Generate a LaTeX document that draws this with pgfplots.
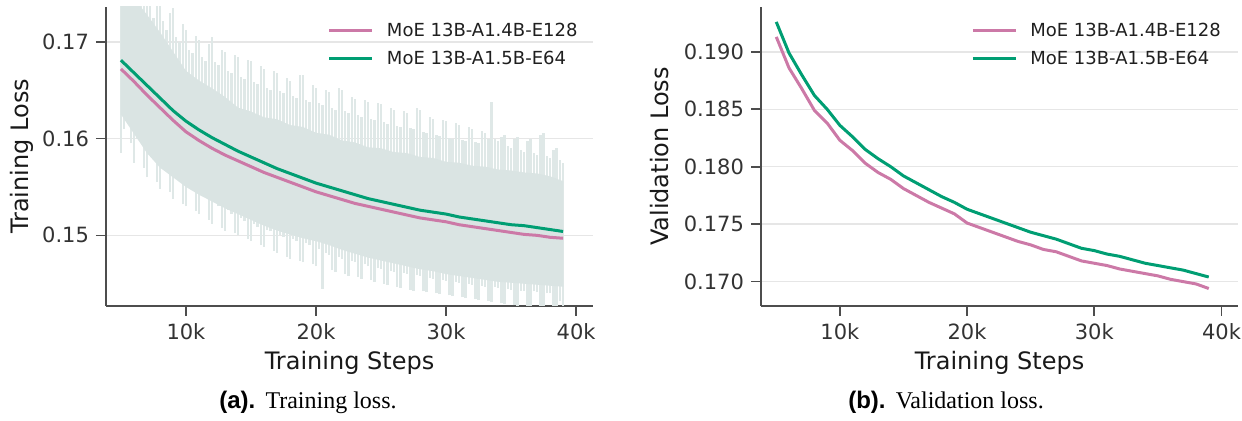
\documentclass[border=0pt]{standalone}
\usepackage{fontspec}
\setmainfont{DejaVu Sans}
\newfontfamily\capsans{Liberation Sans}
\newfontfamily\capserif{Liberation Serif}
\usepackage{pgfplots}
\usepackage{pgfplotstable}
\pgfplotsset{compat=1.18}

\definecolor{pinkline}{HTML}{CC79A7}
\definecolor{greenline}{HTML}{009E73}
\definecolor{bandcore}{HTML}{DAE4E3}
\definecolor{bandspike}{HTML}{DFE8E7}
\definecolor{gridgray}{HTML}{E6E6E6}
\definecolor{spine}{HTML}{4D4D4D}
\definecolor{ticktext}{HTML}{333333}

% raw training loss: lowest and highest value in each 250-step window
\pgfplotstableread{
s lo hi
5000 0.1585 0.1760
5250 0.1610 0.1760
5500 0.1622 0.1745
5750 0.1595 0.1760
6000 0.1575 0.1770
6250 0.1600 0.1750
6500 0.1598 0.1738
6750 0.1570 0.1760
7000 0.1560 0.1762
7250 0.1585 0.1740
7500 0.1580 0.1725
7750 0.1555 0.1745
8000 0.1548 0.1750
8250 0.1570 0.1722
8500 0.1566 0.1712
8750 0.1545 0.1730
9000 0.1538 0.1735
9250 0.1560 0.1705
9500 0.1556 0.1700
9750 0.1532 0.1718
10000 0.1530 0.1712
10250 0.1550 0.1692
10500 0.1548 0.1688
10750 0.1525 0.1706
11000 0.1522 0.1702
11250 0.1542 0.1684
11500 0.1540 0.1680
11750 0.1516 0.1698
12000 0.1512 0.1705
12250 0.1534 0.1679
12500 0.1530 0.1676
12750 0.1508 0.1692
13000 0.1505 0.1690
13250 0.1526 0.1670
13500 0.1522 0.1668
13750 0.1502 0.1686
14000 0.1500 0.1684
14250 0.1518 0.1664
14500 0.1515 0.1662
14750 0.1496 0.1681
15000 0.1494 0.1680
15250 0.1512 0.1658
15500 0.1509 0.1656
15750 0.1490 0.1675
16000 0.1488 0.1672
16250 0.1506 0.1652
16500 0.1504 0.1650
16750 0.1484 0.1670
17000 0.1482 0.1668
17250 0.1500 0.1649
17500 0.1498 0.1647
17750 0.1478 0.1663
18000 0.1476 0.1660
18250 0.1496 0.1644
18500 0.1494 0.1642
18750 0.1474 0.1666
19000 0.1472 0.1666
19250 0.1492 0.1640
19500 0.1490 0.1638
19750 0.1470 0.1655
20000 0.1468 0.1652
20250 0.1486 0.1637
20500 0.1445 0.1635
20750 0.1482 0.1650
21000 0.1480 0.1648
21250 0.1464 0.1632
21500 0.1462 0.1630
21750 0.1478 0.1652
22000 0.1476 0.1650
22250 0.1460 0.1628
22500 0.1458 0.1626
22750 0.1474 0.1643
23000 0.1472 0.1641
23250 0.1457 0.1624
23500 0.1455 0.1622
23750 0.1470 0.1640
24000 0.1468 0.1638
24250 0.1454 0.1620
24500 0.1452 0.1619
24750 0.1466 0.1637
25000 0.1465 0.1636
25250 0.1450 0.1617
25500 0.1449 0.1615
25750 0.1463 0.1632
26000 0.1462 0.1630
26250 0.1447 0.1613
26500 0.1446 0.1612
26750 0.1461 0.1628
27000 0.1460 0.1626
27250 0.1444 0.1611
27500 0.1443 0.1610
27750 0.1459 0.1632
28000 0.1458 0.1630
28250 0.1442 0.1607
28500 0.1441 0.1606
28750 0.1456 0.1622
29000 0.1455 0.1620
29250 0.1440 0.1604
29500 0.1439 0.1603
29750 0.1454 0.1619
30000 0.1453 0.1618
30250 0.1438 0.1601
30500 0.1437 0.1600
30750 0.1452 0.1616
31000 0.1451 0.1614
31250 0.1436 0.1599
31500 0.1435 0.1598
31750 0.1450 0.1612
32000 0.1449 0.1610
32250 0.1434 0.1596
32500 0.1433 0.1595
32750 0.1448 0.1608
33000 0.1447 0.1606
33250 0.1432 0.1600
33500 0.1431 0.1638
33750 0.1447 0.1600
34000 0.1446 0.1598
34250 0.1430 0.1602
34500 0.1429 0.1604
34750 0.1445 0.1592
35000 0.1444 0.1590
35250 0.1428 0.1600
35500 0.1427 0.1602
35750 0.1443 0.1588
36000 0.1443 0.1586
36250 0.1426 0.1598
36500 0.1425 0.1600
36750 0.1442 0.1585
37000 0.1441 0.1583
37250 0.1424 0.1604
37500 0.1423 0.1606
37750 0.1440 0.1582
38000 0.1440 0.1580
38250 0.1421 0.1588
38500 0.1420 0.1590
38750 0.1432 0.1578
39000 0.1420 0.1575
}\rawspikes

\pgfplotsset{
  lossaxis/.style={
    scale only axis, anchor=south west,
    height=149.5pt,
    axis x line*=bottom, axis y line*=left,
    axis line style={spine, line width=0.8pt, -},
    tick align=outside, major tick length=5pt,
    tick style={spine, line width=0.8pt},
    xtick={10000,20000,30000,40000},
    xticklabels={10k,20k,30k,40k},
    scaled ticks=false,
    ymajorgrids, grid style={gridgray, line width=0.7pt},
    tick label style={font=\fontsize{10.5}{12}\selectfont, text=ticktext},
    label style={font=\fontsize{12}{14}\selectfont, text=black!90},
    xlabel={Training Steps},
    xlabel style={at={(axis description cs:0.5,-0.19)}, anchor=center},
    legend cell align=left,
    legend image code/.code={\draw[#1] (0pt,0pt) -- (21.5pt,0pt); \path (26pt,0pt);},
    legend style={draw=none, fill=none, anchor=north west,
      font=\fontsize{9}{10}\selectfont, text=black!88,
      row sep=1.8pt, inner sep=0pt,
      nodes={inner sep=2pt}},
    every axis plot/.append style={line join=round},
  },
}

\begin{document}
\begin{tikzpicture}
\useasboundingbox (0,0) rectangle (621pt,210.5pt);

% ---------- (a) training loss ----------
\begin{axis}[lossaxis,
  at={(53pt,57.5pt)}, width=243.5pt,
  xmin=3850, xmax=41300, ymin=0.1427, ymax=0.1736,
  ytick={0.15,0.16,0.17}, yticklabels={0.15,0.16,0.17},
  ylabel={Training Loss},
  ylabel style={at={(axis description cs:-0.1725,0.5)}, anchor=center},
  legend style={at={(0.455,0.962)}},
]
% raw loss spikes, one thin line per window
\addplot[draw=none, mark=none, forget plot,
  error bars/.cd, y dir=plus, y explicit, error mark=none,
  error bar style={bandspike, line width=1.2pt}]
  table[x=s, y=lo, y error plus expr=\thisrow{hi}-\thisrow{lo}] {\rawspikes};
% raw loss: dense core
\addplot[fill=bandcore, draw=none, forget plot] coordinates {
(5000,0.1750) (6000,0.1745) (7000,0.1728) (8000,0.1710) (9000,0.1690) (10000,0.1670)
(11000,0.1660) (12000,0.1652) (13000,0.1643) (14000,0.1632) (15000,0.1628) (16000,0.1622)
(17000,0.1620) (18000,0.1614) (19000,0.1612) (20000,0.1606) (21000,0.1604) (22000,0.1598)
(23000,0.1596) (24000,0.1591) (25000,0.1590) (26000,0.1586) (27000,0.1585) (28000,0.1581)
(29000,0.1580) (30000,0.1576) (31000,0.1575) (32000,0.1572) (33000,0.1571) (34000,0.1568)
(35000,0.1567) (36000,0.1565) (37000,0.1564) (38000,0.1561) (39000,0.1556)
(39000,0.1447) (38000,0.1448) (37000,0.1449) (36000,0.1450) (35000,0.1451) (34000,0.1452)
(33000,0.1454) (32000,0.1456) (31000,0.1458) (30000,0.1460) (29000,0.1463) (28000,0.1465)
(27000,0.1468) (26000,0.1471) (25000,0.1474) (24000,0.1477) (23000,0.1481) (22000,0.1485)
(21000,0.1490) (20000,0.1494) (19000,0.1497) (18000,0.1501) (17000,0.1505) (16000,0.1510)
(15000,0.1516) (14000,0.1522) (13000,0.1528) (12000,0.1535) (11000,0.1542) (10000,0.1550)
(9000,0.1560) (8000,0.1570) (7000,0.1585) (6000,0.1605) (5000,0.1625)
} -- cycle;
\addplot[pinkline, line width=1.5pt] coordinates {
(5000,0.1672) (6000,0.1659) (7000,0.1645) (8000,0.1632) (9000,0.1619) (10000,0.1607)
(11000,0.1598) (12000,0.1590) (13000,0.1583) (14000,0.1577) (15000,0.1571) (16000,0.1565)
(17000,0.1560) (18000,0.1555) (19000,0.1550) (20000,0.1545) (21000,0.1541) (22000,0.1537)
(23000,0.1533) (24000,0.1530) (25000,0.1527) (26000,0.1524) (27000,0.1521) (28000,0.1518)
(29000,0.1516) (30000,0.1514) (31000,0.1511) (32000,0.1509) (33000,0.1507) (34000,0.1505)
(35000,0.1503) (36000,0.1501) (37000,0.1500) (38000,0.1498) (39000,0.1497)
};
\addlegendentry{MoE 13B-A1.4B-E128}
\addplot[greenline, line width=1.5pt] coordinates {
(5000,0.1681) (6000,0.1668) (7000,0.1655) (8000,0.1642) (9000,0.1629) (10000,0.1618)
(11000,0.1609) (12000,0.1601) (13000,0.1594) (14000,0.1587) (15000,0.1581) (16000,0.1575)
(17000,0.1569) (18000,0.1564) (19000,0.1559) (20000,0.1554) (21000,0.1550) (22000,0.1546)
(23000,0.1542) (24000,0.1538) (25000,0.1535) (26000,0.1532) (27000,0.1529) (28000,0.1526)
(29000,0.1524) (30000,0.1522) (31000,0.1519) (32000,0.1517) (33000,0.1515) (34000,0.1513)
(35000,0.1511) (36000,0.1510) (37000,0.1508) (38000,0.1506) (39000,0.1504)
};
\addlegendentry{MoE 13B-A1.5B-E64}
\end{axis}

% ---------- (b) validation loss ----------
\begin{axis}[lossaxis,
  at={(380.5pt,57.5pt)}, width=238.5pt,
  xmin=3800, xmax=41300, ymin=0.16788, ymax=0.1939,
  ytick={0.170,0.175,0.180,0.185,0.190},
  yticklabels={0.170,0.175,0.180,0.185,0.190},
  ylabel={Validation Loss},
  ylabel style={at={(axis description cs:-0.2117,0.5)}, anchor=center},
  legend style={at={(0.44,0.962)}},
]
\addplot[pinkline, line width=1.5pt] coordinates {
(5000,0.1913) (6000,0.1886) (7000,0.1868) (8000,0.1849) (9000,0.1838) (10000,0.1823)
(11000,0.1814) (12000,0.1803) (13000,0.1795) (14000,0.1789) (15000,0.1781) (16000,0.1775)
(17000,0.1769) (18000,0.1764) (19000,0.1759) (20000,0.1751) (21000,0.1747) (22000,0.1743)
(23000,0.1739) (24000,0.1735) (25000,0.1732) (26000,0.1728) (27000,0.1726) (28000,0.1722)
(29000,0.1718) (30000,0.1716) (31000,0.1714) (32000,0.1711) (33000,0.1709) (34000,0.1707)
(35000,0.1705) (36000,0.1702) (37000,0.1700) (38000,0.1698) (39000,0.1694)
};
\addlegendentry{MoE 13B-A1.4B-E128}
\addplot[greenline, line width=1.5pt] coordinates {
(5000,0.1926) (6000,0.1899) (7000,0.1880) (8000,0.1862) (9000,0.1850) (10000,0.1836)
(11000,0.1826) (12000,0.1815) (13000,0.1807) (14000,0.1800) (15000,0.1792) (16000,0.1786)
(17000,0.1780) (18000,0.1774) (19000,0.1769) (20000,0.1763) (21000,0.1759) (22000,0.1755)
(23000,0.1751) (24000,0.1747) (25000,0.1743) (26000,0.1740) (27000,0.1737) (28000,0.1733)
(29000,0.1729) (30000,0.1727) (31000,0.1724) (32000,0.1722) (33000,0.1719) (34000,0.1716)
(35000,0.1714) (36000,0.1712) (37000,0.1710) (38000,0.1707) (39000,0.1704)
};
\addlegendentry{MoE 13B-A1.5B-E64}
\end{axis}

% captions
\node[font=\fontsize{12}{14}\selectfont, anchor=center] at (154pt,9.5pt)
  {{\capsans\bfseries (a).} {\capserif Training loss.}};
\node[font=\fontsize{12}{14}\selectfont, anchor=center] at (473pt,9.5pt)
  {{\capsans\bfseries (b).} {\capserif Validation loss.}};
\end{tikzpicture}
\end{document}
